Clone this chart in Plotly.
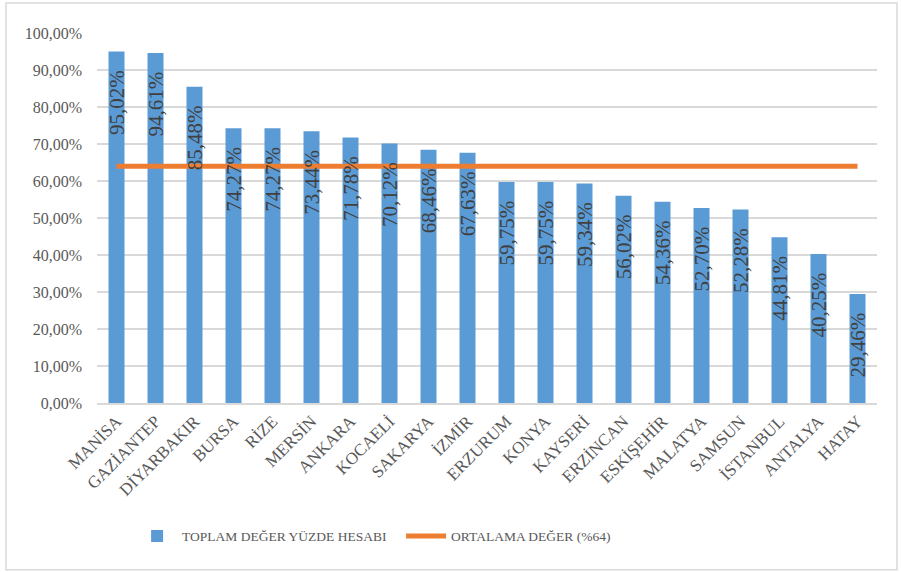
import plotly.graph_objects as go

categories = ["MANİSA", "GAZİANTEP", "DİYARBAKIR", "BURSA", "RİZE", "MERSİN", "ANKARA",
              "KOCAELİ", "SAKARYA", "İZMİR", "ERZURUM", "KONYA", "KAYSERİ", "ERZİNCAN",
              "ESKİŞEHİR", "MALATYA", "SAMSUN", "İSTANBUL", "ANTALYA", "HATAY"]
values = [95.02, 94.61, 85.48, 74.27, 74.27, 73.44, 71.78, 70.12, 68.46, 67.63,
          59.75, 59.75, 59.34, 56.02, 54.36, 52.70, 52.28, 44.81, 40.25, 29.46]
average = [64] * len(categories)
tick_vals = [0, 10, 20, 30, 40, 50, 60, 70, 80, 90, 100]
tick_text = ["0,00%", "10,00%", "20,00%", "30,00%", "40,00%", "50,00%",
             "60,00%", "70,00%", "80,00%", "90,00%", "100,00%"]

labels = [f"{v:.2f}".replace(".", ",") + "%" + "\u00a0\u00a0\u00a0" for v in values]

FONT = "Liberation Serif"

fig = go.Figure()
# bars (base layer)
fig.add_trace(go.Bar(
    x=categories, y=values, name="TOPLAM DEĞER YÜZDE HESABI",
    marker=dict(color="#5B9BD5", line=dict(width=0)),
))
# average line on top of bars
fig.add_trace(go.Scatter(
    x=categories, y=average, name="ORTALAMA DEĞER (%64)", mode="lines",
    line=dict(color="#ED7D31", width=5),
))
# data labels on overlay axes so they sit above the line
fig.add_trace(go.Bar(
    x=categories, y=values, xaxis="x2", yaxis="y2", showlegend=False,
    marker=dict(color="rgba(0,0,0,0)", line=dict(width=0)),
    text=labels, textposition="inside", insidetextanchor="end", textangle=-90,
    textfont=dict(family=FONT, size=21, color="#404040"),
    hoverinfo="skip",
))

fig.update_layout(
    width=901, height=572,
    margin=dict(l=97, r=24, t=33, b=169),
    paper_bgcolor="white", plot_bgcolor="white",
    bargap=0.59,
    font=dict(family=FONT, color="#595959", size=15),
    uniformtext=dict(minsize=21, mode="show"),
    showlegend=True,
    legend=dict(orientation="h", x=0.045, xanchor="left", y=-0.36, yanchor="middle",
                font=dict(family=FONT, size=13.5, color="#595959"),
                itemwidth=40, tracegroupgap=0, entrywidth=214, entrywidthmode="pixels"),
    shapes=[dict(type="rect", xref="paper", yref="paper",
                 x0=-0.1167, x1=1.0256, y0=-0.451, y1=1.081,
                 line=dict(color="#D9D9D9", width=1.5), fillcolor="rgba(0,0,0,0)")],
    xaxis2=dict(overlaying="x", matches="x", visible=False, showgrid=False),
    yaxis2=dict(overlaying="y", range=[0, 100], visible=False, showgrid=False),
)
fig.update_layout(xaxis=dict(
    tickangle=-45, tickfont=dict(family=FONT, size=17, color="#595959"),
    showline=True, linecolor="#D9D9D9", linewidth=1.5, showgrid=False, ticks=""))
fig.update_layout(yaxis=dict(
    range=[0, 100], tickvals=tick_vals, ticktext=tick_text,
    showgrid=True, gridcolor="#D9D9D9", gridwidth=1.5, zeroline=False,
    tickfont=dict(family=FONT, size=16, color="#595959"), ticks="",
    ticklabelstandoff=14))

fig.write_html("out.html")
